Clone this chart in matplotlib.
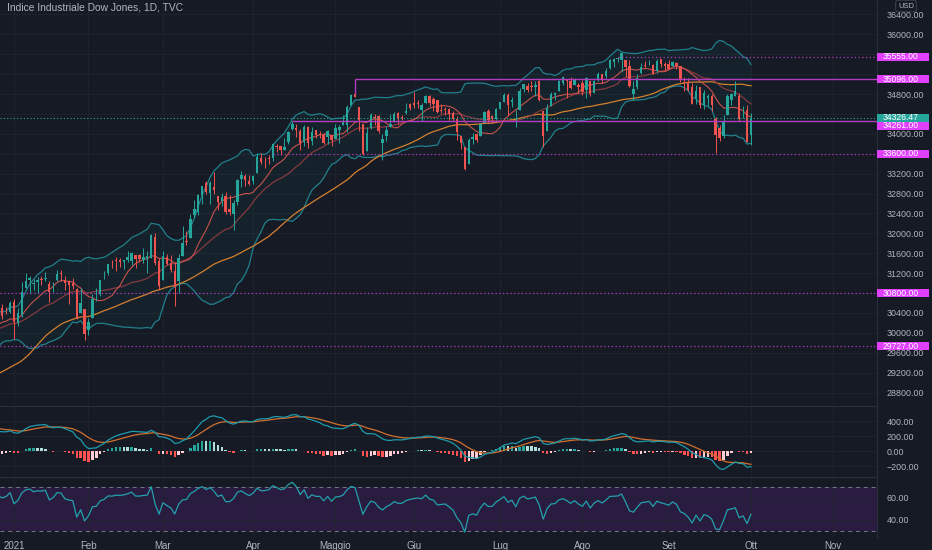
import numpy as np
import pandas as pd
import matplotlib
matplotlib.use('Agg')
import matplotlib.pyplot as plt
from matplotlib.patches import Rectangle
from matplotlib.ticker import FuncFormatter

# closes before the visible window (1 Oct - 24 Dec 2020), only feed the indicators
warmup_close = [
    27816, 27682, 28148, 27772, 28303, 28425, 28586, 28837, 28679, 28514, 28494,
    28606, 28195, 28308, 28210, 28363, 28335, 27685, 27463, 26519, 26659, 26501,
    26925, 27480, 27847, 28390, 28323, 29157, 29420, 29397, 29080, 29479, 29950,
    29783, 29438, 29483, 29263, 29591, 30046, 29872, 29910, 29638,
    29823, 29883, 29969, 30218, 30069, 30173, 30068, 29999, 30046, 29861, 30199,
    30154, 30303, 30179, 30216, 30015, 30129, 30199,
]

# daily candles 28 Dec 2020 - 1 Oct 2021
opens = [
    30283, 30492, 30415, 30413,
    30627, 30205, 30364, 30905, 31069, 30988, 31016, 31081, 31087, 30980, 30915, 31053, 31205, 31052, 31050, 30995, 30886, 30397, 30486,
    30054, 30302, 30715, 30784, 31133, 31210, 31378, 31464, 31468, 31421, 31460, 31452, 31559, 31558, 31458, 31483, 31505, 31922, 31448,
    31066, 31525, 31413, 31251, 31049, 31553, 31849, 31906, 32378, 32430, 32772, 33011, 32818, 32928, 32757, 32658, 32741, 32489, 32384, 32640, 33096, 33161, 33060,
    33054, 33222, 33515, 33447, 33507, 33523, 33764, 33747, 33681, 33842, 34096, 34120, 34065, 33834, 34141, 33850, 34073, 34004, 33986, 33934, 33986,
    33904, 34073, 34187, 34184, 34590, 34797, 34537, 34196, 33649, 34115, 34340, 34360, 33818, 33965, 34144, 34262, 34425, 34330, 34412, 34591,
    34621, 34630, 34478, 34618, 34760, 34693, 34682, 34478, 34498, 34507, 34410, 34304, 33948, 33732, 33395, 33901, 33998, 33964, 34226, 34455, 34350, 34299,
    34507, 34642, 34790, 34646, 34412, 34479, 34902, 34971, 34966, 34950, 35058, 34451, 34061, 34570, 34790, 34860, 35022, 35109, 35060, 34992, 34983,
    35029, 34875, 35055, 34826, 35112, 35206, 35160, 35327, 35450, 35501, 35483, 35486, 35373, 34795, 34951, 35223, 35387, 35400, 35393, 35258, 35508, 35398,
    35404, 35369, 35433, 35371, 35043, 35043, 34946, 34716, 34947, 34575, 34725, 34767, 34305, 34124, 33961, 34389, 34681, 34761, 34751, 34390, 34482,
    33987,
]
highs = [
    30525, 30588, 30525, 30637,
    30674, 30504, 31022, 31193, 31141, 31081, 31124, 31146, 31224, 31034, 31016, 31271, 31271, 31150, 31067, 31095, 30903, 30892, 30486,
    30301, 30777, 30892, 31071, 31240, 31391, 31467, 31521, 31497, 31464, 31643, 31615, 31560, 31584, 31701, 31650, 31977, 32010, 31497,
    31653, 31594, 31557, 31427, 31584, 32150, 32054, 32389, 32661, 32793, 32960, 33049, 33048, 33227, 32757, 32815, 32840, 32765, 32673, 33098, 33259, 33185, 33174,
    33167, 33617, 33611, 33526, 33569, 33810, 33803, 33765, 33911, 34048, 34256, 34190, 34095, 34171, 34161, 34134, 34082, 34063, 34016, 34078, 33987,
    34207, 34175, 34382, 34573, 34811, 35092, 34541, 34196, 34141, 34416, 34409, 34380, 33992, 34163, 34405, 34432, 34432, 34386, 34626, 34621,
    34849, 34684, 34630, 34778, 34778, 34733, 34688, 34610, 34545, 34517, 34454, 34367, 33948, 33733, 33919, 34021, 34014, 34209, 34462, 34495, 34383, 34518,
    34647, 34816, 34816, 34732, 34475, 34915, 35012, 35032, 35059, 35067, 35091, 34451, 34600, 34832, 34846, 35076, 35171, 35111, 35152, 35131, 35024,
    35083, 35133, 35055, 35075, 35239, 35207, 35333, 35513, 35515, 35547, 35631, 35489, 35486, 35072, 35199, 35433, 35470, 35488, 35410, 35514, 35510, 35452,
    35481, 35468, 35445, 35371, 35135, 35122, 35014, 34985, 34948, 34876, 34806, 34793, 34340, 34187, 34380, 34807, 34815, 35061, 34822, 34553, 34581,
    34415,
]
lows = [
    30283, 30274, 30388, 30393,
    29881, 30141, 30313, 30897, 30794, 30866, 30810, 30956, 31042, 30613, 30812, 31042, 31050, 30863, 30585, 30875, 30270, 30397, 29856,
    29950, 30302, 30649, 30738, 31073, 31155, 31294, 31244, 31318, 31277, 31427, 31370, 31302, 31429, 31406, 31195, 31505, 31355, 30882,
    31066, 31354, 31227, 30547, 30807, 31553, 31774, 31906, 32314, 32370, 32597, 32793, 32583, 32793, 32464, 32553, 32381, 32372, 32069, 32563, 32934, 32960, 32979,
    32985, 33222, 33404, 33323, 33388, 33460, 33643, 33571, 33681, 33796, 34070, 33929, 33679, 33758, 33721, 33786, 33922, 33919, 33804, 33802, 33747,
    33904, 33820, 34174, 34036, 34578, 34734, 34055, 33573, 33649, 34098, 34173, 34023, 33471, 33856, 34144, 34236, 34198, 34278, 34394, 34488,
    34519, 34520, 34256, 34618, 34554, 34453, 34420, 34410, 34376, 34269, 34268, 33876, 33694, 33272, 33395, 33790, 33843, 33964, 34226, 34212, 34211, 34272,
    34507, 34642, 34371, 34542, 34145, 34479, 34843, 34850, 34852, 34767, 34657, 33741, 34061, 34570, 34671, 34860, 34977, 34713, 34894, 34992, 34819,
    34778, 34721, 34762, 34826, 35058, 35032, 35129, 35304, 35352, 35445, 35237, 35137, 34934, 34690, 34892, 35213, 35314, 35383, 35207, 35226, 35347, 35259,
    35303, 35336, 35294, 35034, 34857, 34869, 34595, 34597, 34513, 34499, 34551, 34469, 33613, 33858, 33917, 34389, 34575, 34761, 34253, 34311, 33832,
    33782,
]
closes = [
    30403, 30335, 30409, 30606,
    30224, 30392, 30829, 31041, 31098, 31009, 31069, 31060, 31112, 30814, 30931, 31188, 31176, 30997, 30960, 30937, 30303, 30603, 29983,
    30212, 30687, 30724, 31056, 31148, 31386, 31376, 31438, 31431, 31458, 31523, 31613, 31493, 31494, 31522, 31537, 31962, 31402, 30932,
    31536, 31392, 31270, 30924, 31496, 31802, 31833, 32297, 32486, 32779, 32953, 32826, 33015, 32862, 32628, 32731, 32423, 32420, 32619, 33073, 33171, 33067, 32982,
    33153, 33527, 33430, 33446, 33504, 33801, 33745, 33677, 33731, 34036, 34201, 34078, 33821, 34137, 33816, 34043, 33982, 33985, 33820, 34060, 33875,
    34113, 34133, 34230, 34549, 34778, 34743, 34269, 33588, 34021, 34382, 34328, 34061, 33896, 34084, 34208, 34394, 34312, 34323, 34465, 34529,
    34575, 34600, 34577, 34756, 34630, 34600, 34447, 34466, 34480, 34394, 34299, 34034, 33823, 33290, 33877, 33946, 33874, 34197, 34434, 34283, 34292, 34503,
    34634, 34786, 34577, 34682, 34422, 34870, 34996, 34889, 34933, 34987, 34688, 33962, 34512, 34798, 34823, 35062, 35144, 35059, 34931, 35085, 34935,
    34838, 35116, 34793, 35064, 35209, 35102, 35265, 35485, 35500, 35515, 35625, 35343, 34961, 34894, 35120, 35336, 35366, 35406, 35213, 35456, 35400, 35361,
    35313, 35444, 35369, 35100, 35031, 34879, 34608, 34870, 34578, 34814, 34751, 34585, 33970, 33920, 34258, 34765, 34798, 34869, 34300, 34391, 33844,
    34326.47,
]

holidays = ['2020-11-26', '2020-12-25', '2021-01-01', '2021-01-18', '2021-02-15',
            '2021-04-02', '2021-05-31', '2021-07-05', '2021-09-06', '2021-11-25']

# drawn horizontal levels
levels = [35555.00, 35096.00, 34261.00, 33600.00, 30800.00, 29727.00]
level_from = ['2021-08-13', '2021-05-10', '2021-04-16', '2021-04-09', None, None]
level_solid = [False, True, True, False, False, False]
tag_shift = [0, 0, 5, 0, 0, 0]
last_price = 34326.47

month_labels = ['2021', 'Feb', 'Mar', 'Apr', 'Maggio', 'Giu', 'Lug', 'Ago', 'Set', 'Ott', 'Nov']

BG = '#161a25'
GRID = '#20242f'
TXT = '#b2b5be'
EDGE = '#2a2e39'
UP = '#26a69a'
DN = '#ef5350'
MAGENTA = '#e040fb'
LINE_MAG = '#b23cc0'

plt.rcParams['font.family'] = ['Liberation Sans', 'DejaVu Sans']

# trading calendar
days = pd.bdate_range('2020-10-01', '2021-11-30')
days = days[~days.isin(pd.to_datetime(holidays))]
n_warm = len(warmup_close)
n = len(closes)
assert days[n_warm] == pd.Timestamp('2020-12-28')
assert days[n_warm + n - 1] == pd.Timestamp('2021-10-01')
vis_days = days[n_warm:n_warm + n]
x = np.arange(n)
month_pos = [days.searchsorted(m) - n_warm
             for m in pd.date_range('2021-01-01', '2021-11-01', freq='MS')]

# indicators
c_all = pd.Series(warmup_close + closes, dtype=float)
sma10 = c_all.rolling(10).mean()
sma20 = c_all.rolling(20).mean()
sma50 = c_all.rolling(50).mean()
sd20 = c_all.rolling(20).std(ddof=0)
bb_up = sma20 + 2 * sd20
bb_lo = sma20 - 2 * sd20
macd = c_all.ewm(span=12, adjust=False).mean() - c_all.ewm(span=26, adjust=False).mean()
signal = macd.ewm(span=9, adjust=False).mean()
hist = macd - signal
delta = c_all.diff()
gain = delta.clip(lower=0).ewm(alpha=1 / 14, adjust=False).mean()
loss = (-delta.clip(upper=0)).ewm(alpha=1 / 14, adjust=False).mean()
rsi = 100 - 100 / (1 + gain / loss)

sl = slice(n_warm, n_warm + n)
sma10, sma20, sma50 = sma10[sl].values, sma20[sl].values, sma50[sl].values
bb_up, bb_lo = bb_up[sl].values, bb_lo[sl].values
macd, signal, hist_all = macd[sl].values, signal[sl].values, hist.values
hist = hist_all[sl]
hist_prev = hist_all[n_warm - 1:n_warm + n - 1]
rsi = rsi[sl].values

W, H = 932, 550
fig = plt.figure(figsize=(W / 100, H / 100), dpi=100, facecolor=BG)


def pane(top, bottom):
    a = fig.add_axes([0, 1 - bottom / H, 877 / W, (bottom - top) / H])
    a.set_facecolor(BG)
    for s in a.spines.values():
        s.set_visible(False)
    a.spines['right'].set_visible(True)
    a.spines['right'].set_color(EDGE)
    a.yaxis.tick_right()
    a.tick_params(axis='y', colors=TXT, labelsize=6.4, length=0, pad=7)
    a.tick_params(axis='x', length=0)
    a.grid(True, color=GRID, lw=0.6)
    a.set_axisbelow(True)
    return a


ax = pane(0, 405)
axm = pane(406, 476)
axr = pane(477, 537)
for a in (axm, axr):
    a.spines['top'].set_visible(True)
    a.spines['top'].set_color(EDGE)

jan4 = month_pos[0]
xl = (jan4 - 14 / 3.92, jan4 + 863 / 3.92)
for a in (ax, axm, axr):
    a.set_xlim(*xl)
    a.set_xticks(month_pos)
ax.set_xticklabels([])
axm.set_xticklabels([])
axr.set_xticklabels(month_labels)
axr.tick_params(axis='x', colors=TXT, labelsize=7, pad=3)

# price pane
ax.set_ylim(28549, 36691)
px_per_unit = 405 / (36691 - 28549)
tag_values = levels + [last_price]
price_ticks = np.arange(28800, 36401, 400)
ax.set_yticks(price_ticks)
# tick labels that sit under a price tag are hidden, as on the original
ax.set_yticklabels([f'{v:.2f}' if min(abs(v - t) for t in tag_values) * px_per_unit > 5.5 else ''
                    for v in price_ticks])

ax.fill_between(x, bb_lo, bb_up, color='#26a69a', alpha=0.06, lw=0)
ax.plot(x, bb_up, color='#21808c', lw=0.9)
ax.plot(x, bb_lo, color='#21808c', lw=0.9)
ax.plot(x, sma50, color='#d4802f', lw=0.9)
ax.plot(x, sma20, color='#86393f', lw=0.9)
ax.plot(x, sma10, color='#d9574f', lw=0.8, alpha=0.9)

o = np.array(opens, dtype=float)
h = np.array(highs, dtype=float)
l = np.array(lows, dtype=float)
c = np.array(closes, dtype=float)
col = np.where(c >= o, UP, DN)
ax.vlines(x, l, h, colors=col, lw=0.7, zorder=3)
ax.bar(x, np.maximum(np.abs(c - o), 10), bottom=np.minimum(o, c), width=0.62,
       color=col, lw=0, zorder=4)

for lv, start, solid in zip(levels, level_from, level_solid):
    x0 = xl[0] if start is None else vis_days.get_loc(pd.Timestamp(start))
    ax.hlines(lv, x0, xl[1], colors=LINE_MAG, lw=1.0 if solid else 0.9,
              linestyles='-' if solid else (0, (1, 2)), zorder=5)
    if solid and start == '2021-05-10':
        ax.vlines(x0, o[x0], lv, colors=LINE_MAG, lw=1.0, zorder=5)
ax.axhline(last_price, color=UP, lw=0.8, ls=(0, (1, 2)), zorder=5)

# MACD pane
axm.set_ylim(-333, 600)
axm.set_yticks([400, 200, 0, -200])
axm.yaxis.set_major_formatter(FuncFormatter(lambda v, p: f'{v:.2f}'.replace('-', '\u2212')))
hcol = np.where(hist >= 0,
                np.where(hist > hist_prev, '#26a69a', '#b2dfdb'),
                np.where(hist > hist_prev, '#ffcdd2', '#ff5252'))
axm.bar(x, hist, width=0.62, color=hcol, lw=0)
axm.plot(x, signal, color='#d2702f', lw=0.9)
axm.plot(x, macd, color='#1f9bab', lw=0.9)

# RSI pane
axr.set_ylim(24.2, 79.2)
axr.set_yticks([60, 40])
axr.yaxis.set_major_formatter(FuncFormatter(lambda v, p: f'{v:.2f}'))
axr.axhspan(30, 70, color='#2a1c40', lw=0, zorder=0.5)
axr.axhline(70, color='#787b86', lw=0.7, ls=(0, (4, 4)))
axr.axhline(30, color='#787b86', lw=0.7, ls=(0, (4, 4)))
axr.plot(x, rsi, color='#22a1ac', lw=0.9)


def price_tag(axis, value, color, shift=0):
    yf = axis.transData.transform((0, value))[1] / H - shift / H
    fig.add_artist(Rectangle((877 / W, yf - 4 / H), 52 / W, 8 / H, transform=fig.transFigure,
                             facecolor=color, edgecolor='none', zorder=5))
    fig.text(883 / W, yf, f'{value:.2f}', color='white', fontsize=6.2,
             va='center', ha='left', zorder=6)


for lv, sh in zip(levels, tag_shift):
    price_tag(ax, lv, MAGENTA, sh)
price_tag(ax, last_price, UP)

fig.text(7 / W, 1 - 8 / H, 'Indice Industriale Dow Jones, 1D, TVC', color=TXT,
         fontsize=7.4, va='center', ha='left')
fig.text(906 / W, 1 - 6 / H, 'USD', color=TXT, fontsize=5.5, va='center', ha='center',
         bbox=dict(boxstyle='round,pad=0.3', fc=BG, ec='#434651', lw=0.6))

fig.savefig('out.png', dpi=100, facecolor=BG)
